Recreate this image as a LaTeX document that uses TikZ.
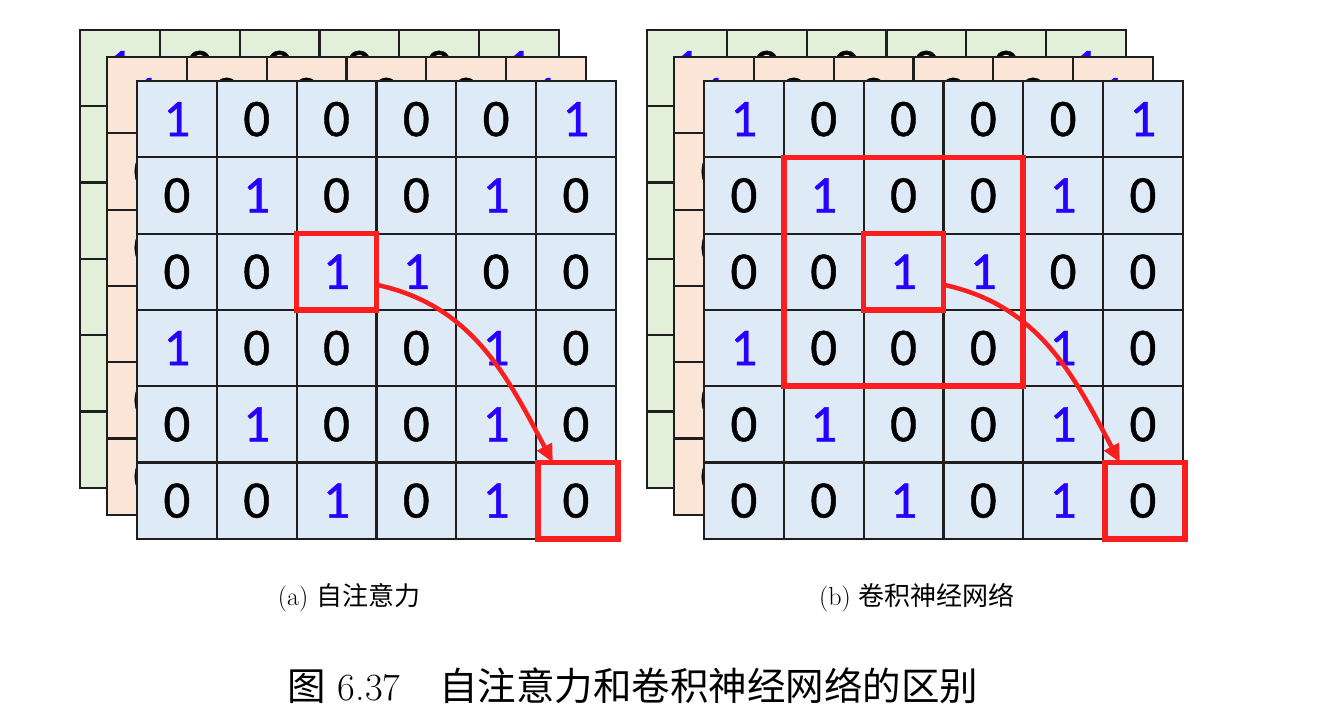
\documentclass[tikz,border=0pt]{standalone}
\usepackage{fontspec}
\newfontfamily\cjk{Noto Sans CJK SC}
\newfontfamily\digitfont[FakeBold=0.8]{Carlito}
\usetikzlibrary{arrows.meta}
\definecolor{cellblue}{RGB}{222,235,247}
\definecolor{cellorange}{RGB}{251,229,214}
\definecolor{cellgreen}{RGB}{226,240,217}
\definecolor{numblue}{RGB}{40,0,255}
\definecolor{hlred}{RGB}{250,30,30}
\definecolor{gridline}{RGB}{30,30,30}
\tikzset{
  cell/.style={draw=gridline, line width=2.2pt, minimum width=79.8pt, minimum height=76.3pt,
    inner sep=0pt, outer sep=0pt, anchor=center, font=\digitfont\fontsize{53}{53}\selectfont},
  redbox/.style={draw=hlred, line width=5.5pt, minimum width=79.8pt, minimum height=76.3pt,
    inner sep=0pt, outer sep=0pt},
  redarrow/.style={draw=hlred, line width=4.5pt, -{Triangle[length=18pt,width=16pt]}},
  subcap/.style={font=\fontsize{26}{30}\selectfont, anchor=center, inner sep=0pt},
  maincap/.style={font=\fontsize{38.5}{44}\selectfont, anchor=center, inner sep=0pt}
}
\newcommand\drawlayer[4]{%
  \foreach \r/\row in {0/{1,0,0,0,0,1},1/{0,1,0,0,1,0},2/{0,0,1,1,0,0},3/{1,0,0,0,1,0},4/{0,1,0,0,1,0},5/{0,0,1,0,1,0}}{%
    \foreach \v [count=\c from 0] in \row {%
      \node[cell, fill=#4] (#1-\r-\c) at ({#2+(\c+0.5)*79.8}, {#3+(\r+0.5)*76.3}) {\ifnum\v=1 \color{numblue}\fi\v};
    }%
  }%
}
\begin{document}
\begin{tikzpicture}[x=1pt, y=-1pt]
\useasboundingbox (0,0) rectangle (1319,714);
\fill[white] (0,0) rectangle (1319,714);
% left figure
\drawlayer{ga}{80}{30}{cellgreen}
\drawlayer{oa}{107}{57}{cellorange}
\drawlayer{fa}{137}{81}{cellblue}
\node[redbox] (a1) at (fa-2-2) {};
\node[redbox] (a2) at ([xshift=2pt]fa-5-5) {};
\draw[redarrow] ([yshift=-13pt]a1.east) to[out=-12,in=118] ([xshift=-25pt]a2.north);
% right figure
\drawlayer{gb}{647}{30}{cellgreen}
\drawlayer{ob}{674}{57}{cellorange}
\drawlayer{fb}{704}{81}{cellblue}
\node[redbox, minimum width=239.4pt, minimum height=228.9pt] (bbig) at (fb-2-2) {};
\node[redbox] (b1) at (fb-2-2) {};
\node[redbox] (b2) at ([xshift=2pt]fb-5-5) {};
\draw[redarrow] ([yshift=-13pt]b1.east) to[out=-12,in=118] ([xshift=-25pt]b2.north);
% captions
\node[subcap] (capa) at (349,598) {(a) {\cjk 自注意力}};
\node[subcap] (capb) at (917,598) {(b) {\cjk 卷积神经网络}};
\node[maincap] (cap) at (633,686) {{\cjk 图} 6.37\quad{\cjk 自注意力和卷积神经网络的区别}};
\end{tikzpicture}
\end{document}
